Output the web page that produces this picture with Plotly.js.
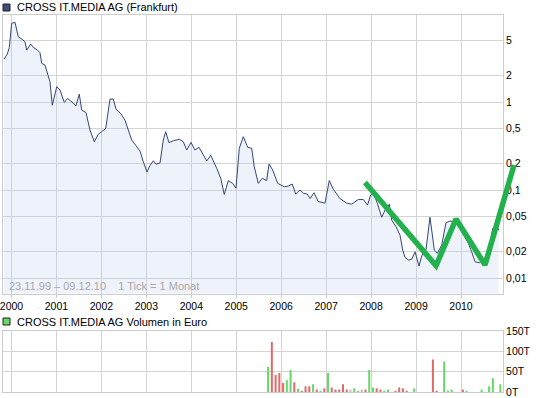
<!DOCTYPE html>
<html><head><meta charset="utf-8">
<script src="https://cdn.plot.ly/plotly-3.0.1.min.js"></script>
<style>html,body{margin:0;padding:0;background:#fff;}#chart{width:545px;height:398px;}</style>
</head><body><div id="chart"></div>
<script>
// Price series (decimal year, price in EUR)
const priceTime = [
1999.833,1999.907,1999.951,2000.004,2000.078,2000.151,2000.227,2000.300,2000.338,2000.427,
2000.485,2000.574,2000.634,2000.672,2000.745,2000.819,2000.856,2000.908,2001.006,2001.079,
2001.175,2001.250,2001.339,2001.435,2001.508,2001.562,2001.657,2001.746,2001.842,2001.931,
2002.007,2002.096,2002.191,2002.265,2002.325,2002.429,2002.525,2002.598,2002.674,2002.770,
2002.859,2002.932,2003.014,2003.081,2003.155,2003.215,2003.304,2003.377,2003.430,2003.504,
2003.600,2003.733,2003.822,2003.898,2003.993,2004.082,2004.171,2004.343,2004.432,2004.565,
2004.654,2004.734,2004.823,2004.921,2004.994,2005.068,2005.157,2005.255,2005.344,2005.401,
2005.490,2005.579,2005.677,2005.729,2005.811,2005.922,2006.069,2006.158,2006.247,2006.323,
2006.418,2006.492,2006.581,2006.641,2006.730,2006.825,2006.974,2007.070,2007.159,2007.308,
2007.457,2007.568,2007.715,2007.827,2007.920,2007.991,2008.049,2008.138,2008.236,2008.309,
2008.405,2008.458,2008.554,2008.643,2008.703,2008.754,2008.828,2008.903,2008.977,2009.066,
2009.126,2009.222,2009.273,2009.310,2009.348,2009.406,2009.473,2009.571,2009.666,2009.755,
2009.867,2009.978,2010.089,2010.163,2010.238,2010.312,2010.407,2010.496,2010.607,2010.705,
2010.794,2010.839];
const priceValue = [
3.08,3.51,4.18,7.84,8.05,5.52,5.20,4.84,3.90,4.56,
4.18,3.90,3.63,2.75,2.63,2.03,1.70,0.92,1.49,1.37,
0.99,1.10,1.01,0.91,1.23,0.81,0.76,0.48,0.354,0.43,
0.46,0.50,1.08,1.08,0.83,0.74,0.62,0.48,0.37,0.319,
0.277,0.21,0.16,0.19,0.215,0.197,0.203,0.37,0.46,0.345,
0.363,0.377,0.354,0.285,0.348,0.285,0.306,0.214,0.248,0.177,
0.136,0.089,0.128,0.119,0.105,0.298,0.403,0.306,0.298,0.184,
0.119,0.136,0.128,0.197,0.169,0.119,0.109,0.111,0.117,0.090,
0.100,0.092,0.090,0.080,0.093,0.074,0.071,0.128,0.102,0.080,
0.071,0.069,0.078,0.078,0.0675,0.088,0.093,0.071,0.049,0.059,
0.069,0.0456,0.0383,0.0308,0.0208,0.0172,0.016,0.0163,0.0199,0.0137,
0.0178,0.0212,0.0351,0.049,0.0351,0.0208,0.0191,0.0237,0.0425,0.0444,
0.0437,0.0367,0.029,0.0248,0.0199,0.0153,0.0149,0.0163,0.0182,0.0367,
0.039,0.0351];

// Monthly volume (thousand EUR), with direction: g = up, r = down, n = unchanged
const volumeMonth = ['2005-09','2005-10','2005-11','2005-12','2006-01','2006-02','2006-03','2006-04','2006-05','2006-06',
'2006-07','2006-08','2006-09','2006-10','2006-11','2006-12','2007-01','2007-02','2007-03','2007-04',
'2007-05','2007-06','2007-07','2007-08','2007-09','2007-10','2007-11','2007-12','2008-01','2008-02',
'2008-03','2008-04','2008-05','2008-07','2008-08','2008-09','2008-10','2008-12','2009-05','2009-06',
'2009-08','2009-09','2009-10','2010-01','2010-02','2010-06','2010-08','2010-09','2010-11'];
const volumeValue = [62,123,42,47,22,29,54,24,8,3,
14,14,19,6,3,9,47,11,6,6,
19,6,6,9,3,6,6,54,11,9,
6,3,6,3,11,9,3,9,80,3,
75,3,6,6,3,6,14,34,19];
const volumeDir = ['g','r','r','r','r','g','g','r','g','r',
'r','r','g','r','g','r','g','r','r','r',
'r','r','n','g','g','n','r','g','g','r',
'r','g','g','r','r','r','r','g','r','r',
'g','g','g','r','g','g','g','g','g'];

// Hand-drawn green trend line (decimal year, price)
const trendTime = [2007.864, 2009.444, 2009.889, 2010.534, 2011.179];
const trendValue = [0.122, 0.0138, 0.0468, 0.0141, 0.192];

const yearTicks = [2000,2001,2002,2003,2004,2005,2006,2007,2008,2009,2010];
const yearLabels = ['2000','2001','2002','2003','2004','2005','2006','2007','2008','2009','2010'];
const priceTickVals = [0.01,0.02,0.05,0.1,0.2,0.5,1,2,5];
const priceTickText = ['0,01','0,02','0,05','0,1','0,2','0,5','1','2','5'];
const volTickVals = [0,50,100,150];
const volTickText = ['0T','50T','100T','150T'];

const W = 545, H = 398;
const FONT = 'Liberation Sans, Arial, sans-serif';
const GRID = '#d4d4d4', FRAME = '#cccccc';
const xPx0 = 3, xPx1 = 503, pxPerYear = 44.95, x2000Px = 11.5;
const xr0 = 2000 + (xPx0 - x2000Px) / pxPerYear;
const xr1 = 2000 + (xPx1 - x2000Px) / pxPerYear;
const xr1wide = 2000 + (W - x2000Px) / pxPerYear;
const xDom = [xPx0 / W, xPx1 / W];
const yDomMain = [1 - 293.5 / H, 1 - 15 / H];
const yDomVol = [1 - 392 / H, 1 - 331 / H];
const logRange = [-2.176, 0.989];

const dirColor = {g: '#66d966', r: '#e06a6a', n: '#bdbdbd'};
const volX = volumeMonth.map(s => { const [y, m] = s.split('-').map(Number); return y + (m - 0.5) / 12; });

const traces = [
  {x: priceTime, y: priceValue, type: 'scatter', mode: 'lines', fill: 'tozeroy',
   fillcolor: 'rgba(190,205,238,0.26)', line: {color: '#34467a', width: 1}, xaxis: 'x', yaxis: 'y', hoverinfo: 'skip'},
  {x: volX, y: volumeValue, type: 'bar', width: 0.045,
   marker: {color: volumeDir.map(d => dirColor[d]), line: {width: 0}}, xaxis: 'x2', yaxis: 'y2', hoverinfo: 'skip'},
  {x: trendTime, y: trendValue, type: 'scatter', mode: 'lines',
   line: {color: '#22b14c', width: 5.5}, xaxis: 'x3', yaxis: 'y3', hoverinfo: 'skip'}
];

const axBase = {showgrid: true, gridcolor: GRID, gridwidth: 1, zeroline: false, showline: true,
  mirror: true, linecolor: FRAME, linewidth: 1, fixedrange: true, ticklabeloverflow: 'allow'};

const layout = {
  width: W, height: H, margin: {l: 0, r: 0, t: 0, b: 0},
  paper_bgcolor: '#ffffff', plot_bgcolor: 'rgba(0,0,0,0)', showlegend: false,
  font: {family: FONT, size: 11, color: '#000'},
  xaxis: Object.assign({}, axBase, {domain: xDom, range: [xr0, xr1], anchor: 'y',
    tickmode: 'array', tickvals: yearTicks, ticktext: yearLabels, ticks: 'outside', ticklen: 3,
    tickcolor: FRAME, tickfont: {family: FONT, size: 10.5, color: '#000'}}),
  yaxis: Object.assign({}, axBase, {domain: yDomMain, type: 'log', range: logRange, anchor: 'x', side: 'right',
    tickmode: 'array', tickvals: priceTickVals, ticktext: priceTickText, ticks: '',
    tickfont: {family: FONT, size: 10.5, color: '#000'}}),
  xaxis2: Object.assign({}, axBase, {domain: xDom, range: [xr0, xr1], anchor: 'y2',
    tickmode: 'array', tickvals: yearTicks, showticklabels: false, ticks: ''}),
  yaxis2: Object.assign({}, axBase, {domain: yDomVol, range: [0, 150], anchor: 'x2', side: 'right',
    tickmode: 'array', tickvals: volTickVals, ticktext: volTickText, ticks: '',
    tickfont: {family: FONT, size: 10.5, color: '#000'}}),
  xaxis3: {domain: [xPx0 / W, 1], range: [xr0, xr1wide], anchor: 'y3', visible: false, fixedrange: true},
  yaxis3: {domain: yDomMain, type: 'log', range: logRange, anchor: 'x3', visible: false, fixedrange: true},
  shapes: [
    {type: 'rect', xref: 'paper', yref: 'paper', x0: 3 / W, x1: 10 / W, y0: 1 - 11 / H, y1: 1 - 4 / H,
     fillcolor: '#3d4d7d', line: {color: '#222', width: 1}},
    {type: 'rect', xref: 'paper', yref: 'paper', x0: 3 / W, x1: 10 / W, y0: 1 - 325 / H, y1: 1 - 318 / H,
     fillcolor: '#66d966', line: {color: '#222', width: 1}}
  ],
  annotations: [
    {text: 'CROSS IT.MEDIA AG (Frankfurt)', xref: 'paper', yref: 'paper', x: 15 / W, y: 1 - 7.5 / H,
     xanchor: 'left', yanchor: 'middle', showarrow: false, font: {family: FONT, size: 11, color: '#000'}},
    {text: 'CROSS IT.MEDIA AG Volumen in Euro', xref: 'paper', yref: 'paper', x: 15 / W, y: 1 - 321.5 / H,
     xanchor: 'left', yanchor: 'middle', showarrow: false, font: {family: FONT, size: 11, color: '#000'}},
    {text: '23.11.99 \u2013 09.12.10\u00a0\u00a0\u00a0\u00a01 Tick = 1 Monat', xref: 'paper', yref: 'paper',
     x: 6.5 / W, y: 1 - 286 / H, xanchor: 'left', yanchor: 'middle', showarrow: false,
     font: {family: FONT, size: 11, color: '#a8a8a8'}}
  ]
};

Plotly.newPlot('chart', traces, layout, {staticPlot: true, displayModeBar: false});
</script>
</body></html>
